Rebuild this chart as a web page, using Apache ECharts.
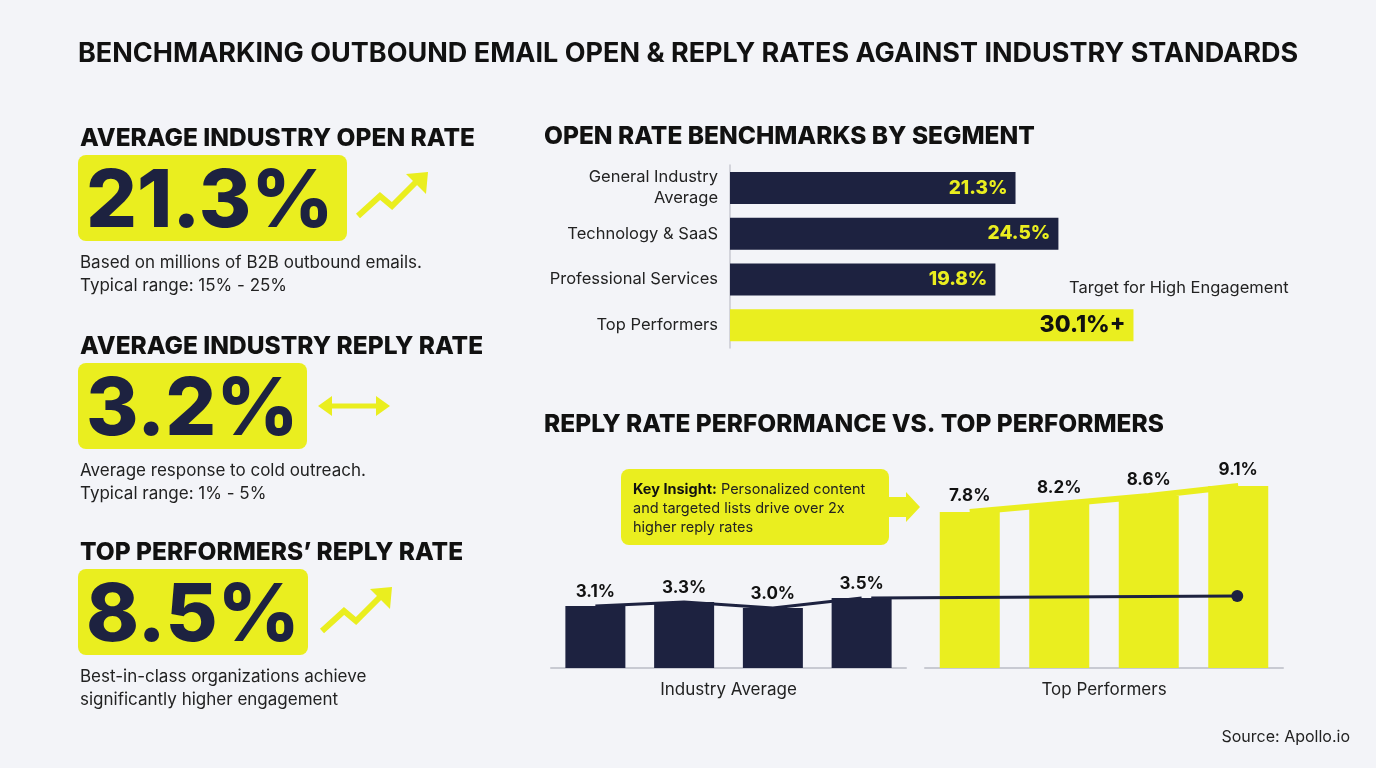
<!DOCTYPE html>
<html>
<head>
<meta charset="utf-8">
<script src="https://cdn.jsdelivr.net/npm/echarts@6/dist/echarts.min.js"></script>
<style>
html,body{margin:0;padding:0;background:#f3f4f8;}
#main{width:1376px;height:768px;}
</style>
</head>
<body>
<div id="main"></div>
<script>
var NAVY = '#1d2240', YEL = '#eaee1f';

// open rate by segment
var segments = ['General Industry\nAverage', 'Technology & SaaS', 'Professional Services', 'Top Performers'];
var openRates = [21.3, 24.5, 19.8, 30.1];

// reply rate performance
var avgCats = ['A1', 'A2', 'A3', 'A4'];
var avgReply = [3.1, 3.3, 3.0, 3.5];
var topCats = ['T1', 'T2', 'T3', 'T4'];
var topReply = [7.8, 8.2, 8.6, 9.1];
var trendCats = ['1', '2', '3', '4', '5', '6', '7', '8'];
var trendLine = [null, null, null, 3.5, null, null, null, 3.6];

var chart = echarts.init(document.getElementById('main'));
var FONT = 'Inter, "Open Sans", sans-serif';

function kpi(y, head, num, boxW, sub1, sub2) {
  return [
    {type: 'text', left: 80, top: y, style: {text: head, font: '800 24.5px ' + FONT, fill: '#111'}},
    {type: 'rect', shape: {x: 78, y: y + 29, width: boxW, height: 86, r: 8}, style: {fill: YEL}},
    {type: 'text', left: 86, top: y + 37, style: {text: num, font: '800 80px ' + FONT, fill: NAVY}},
    {type: 'text', left: 80, top: y + 125, style: {text: sub1 + '\n' + sub2, font: '17px ' + FONT, fill: '#222', lineHeight: 23}}
  ];
}
function zig(x, y) {
  return [
    {type: 'polyline', shape: {points: [[x, y + 44], [x + 22, y + 24], [x + 34, y + 34], [x + 58, y + 10]]}, style: {stroke: YEL, lineWidth: 6, fill: null}},
    {type: 'polygon', shape: {points: [[x + 48, y + 2], [x + 70, y], [x + 68, y + 22]]}, style: {fill: YEL}}
  ];
}

var graphics = [
  {type: 'text', left: 78, top: 40, style: {text: 'BENCHMARKING OUTBOUND EMAIL OPEN & REPLY RATES AGAINST INDUSTRY STANDARDS', font: '700 27px ' + FONT, fill: '#111'}},
  {type: 'text', left: 544, top: 124, style: {text: 'OPEN RATE BENCHMARKS BY SEGMENT', font: '800 24.5px ' + FONT, fill: '#111'}},
  {type: 'text', left: 544, top: 412, style: {text: 'REPLY RATE PERFORMANCE VS. TOP PERFORMERS', font: '800 24.5px ' + FONT, fill: '#111'}},
  {type: 'text', left: 1069, top: 280, style: {text: 'Target for High Engagement', font: '16.5px ' + FONT, fill: '#222'}},
  {type: 'rect', shape: {x: 621, y: 469, width: 268, height: 76, r: 8}, style: {fill: YEL}},
  {type: 'polygon', shape: {points: [[889, 497], [906, 497], [906, 492], [920, 507], [906, 522], [906, 517], [889, 517]]}, style: {fill: YEL}},
  {type: 'text', left: 633, top: 480, style: {
    text: '{b|Key Insight:} Personalized content\nand targeted lists drive over 2x\nhigher reply rates',
    font: '14.5px ' + FONT, fill: '#222', lineHeight: 19,
    rich: {b: {font: '700 14.5px ' + FONT, fill: '#111'}}}},
  {type: 'text', right: 26, top: 729, style: {text: 'Source: Apollo.io', font: '16px ' + FONT, fill: '#222'}},
  // double arrow
  {type: 'line', shape: {x1: 326, y1: 406, x2: 382, y2: 406}, style: {stroke: YEL, lineWidth: 5}},
  {type: 'polygon', shape: {points: [[318, 406], [332, 396], [332, 416]]}, style: {fill: YEL}},
  {type: 'polygon', shape: {points: [[390, 406], [376, 396], [376, 416]]}, style: {fill: YEL}}
]
  .concat(kpi(126, 'AVERAGE INDUSTRY OPEN RATE', '21.3%', 269, 'Based on millions of B2B outbound emails.', 'Typical range: 15% - 25%'))
  .concat(kpi(334, 'AVERAGE INDUSTRY REPLY RATE', '3.2%', 229, 'Average response to cold outreach.', 'Typical range: 1% - 5%'))
  .concat(kpi(540, 'TOP PERFORMERS\u2019 REPLY RATE', '8.5%', 230, 'Best-in-class organizations achieve', 'significantly higher engagement'))
  .concat(zig(358, 172)).concat(zig(322, 587));

var hidden = {show: false};
chart.setOption({
  backgroundColor: '#f3f4f8',
  textStyle: {fontFamily: FONT},
  graphic: graphics,
  grid: [
    {left: 730, top: 165, width: 563, height: 183},
    {left: 551, top: 468, width: 355, height: 200},
    {left: 925, top: 468, width: 358, height: 200},
    {left: 551, top: 468, width: 732, height: 200}
  ],
  xAxis: [
    {gridIndex: 0, type: 'value', min: 0, max: 42, show: false},
    {gridIndex: 1, type: 'category', data: avgCats, axisTick: hidden, axisLabel: hidden,
      axisLine: {lineStyle: {color: '#c8cad2', width: 2}},
      name: 'Industry Average', nameLocation: 'middle', nameGap: 13, nameTextStyle: {fontSize: 17, color: '#222'}},
    {gridIndex: 2, type: 'category', data: topCats, axisTick: hidden, axisLabel: hidden,
      axisLine: {lineStyle: {color: '#c8cad2', width: 2}},
      name: 'Top Performers', nameLocation: 'middle', nameGap: 13, nameTextStyle: {fontSize: 17, color: '#222'}},
    {gridIndex: 3, type: 'category', data: trendCats, show: false}
  ],
  yAxis: [
    {gridIndex: 0, type: 'category', data: segments, inverse: true, axisTick: hidden,
      axisLine: {lineStyle: {color: '#c8cad2', width: 1.5}},
      axisLabel: {fontSize: 16.5, color: '#222', lineHeight: 21, margin: 12, align: 'right'}},
    {gridIndex: 1, type: 'value', min: 0, max: 10, show: false},
    {gridIndex: 2, type: 'value', min: 0, max: 10, show: false},
    {gridIndex: 3, type: 'value', min: 0, max: 10, show: false}
  ],
  series: [
    {type: 'bar', xAxisIndex: 0, yAxisIndex: 0, barWidth: 32,
      data: openRates.map(function (v, i) {
        return {value: v, itemStyle: {color: i === 3 ? YEL : NAVY},
          label: {color: i === 3 ? '#111' : YEL, fontSize: i === 3 ? 23 : 19}};
      }),
      label: {show: true, position: 'insideRight', fontWeight: 800, distance: 8,
        formatter: function (p) { return p.value.toFixed(1) + '%' + (p.dataIndex === 3 ? '+' : ''); }}},
    {type: 'bar', xAxisIndex: 1, yAxisIndex: 1, barWidth: 60, data: avgReply, itemStyle: {color: NAVY},
      label: {show: true, position: 'top', distance: 6, color: '#111', fontSize: 17, fontWeight: 700,
        formatter: function (p) { return p.value.toFixed(1) + '%'; }}},
    {type: 'line', xAxisIndex: 1, yAxisIndex: 1, data: avgReply, symbol: 'none', z: 1,
      lineStyle: {color: NAVY, width: 3}},
    {type: 'bar', xAxisIndex: 2, yAxisIndex: 2, barWidth: 60, data: topReply, itemStyle: {color: YEL},
      label: {show: true, position: 'top', distance: 8, color: '#111', fontSize: 17, fontWeight: 700,
        formatter: function (p) { return p.value.toFixed(1) + '%'; }}},
    {type: 'line', xAxisIndex: 2, yAxisIndex: 2, data: topReply, symbol: 'none', z: 1,
      lineStyle: {color: YEL, width: 6}},
    {type: 'line', xAxisIndex: 3, yAxisIndex: 3, connectNulls: true, z: 5,
      data: trendLine.map(function (v, i) {
        return {value: v, symbolSize: i === 7 ? 12 : 0};
      }),
      symbol: 'circle', showSymbol: true, itemStyle: {color: NAVY}, lineStyle: {color: NAVY, width: 3}}
  ]
});
</script>
</body>
</html>
